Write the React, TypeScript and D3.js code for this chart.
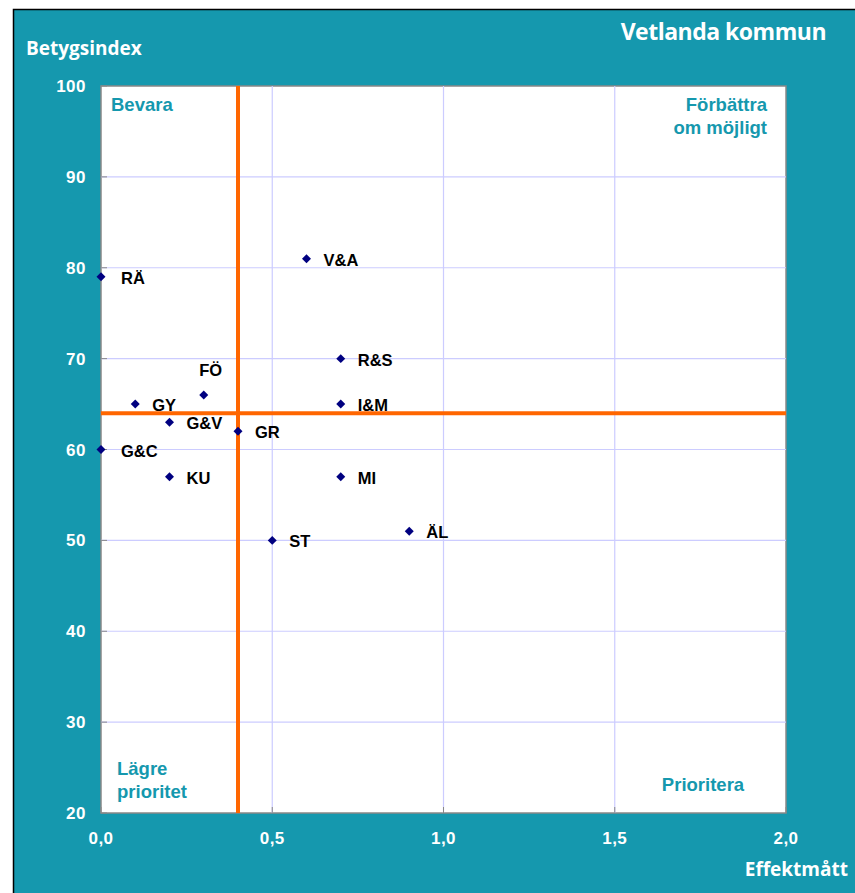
import * as d3 from "d3";
import React from "react";
import { useEffect, useRef } from "react";

const labels = ["RÄ", "V&A", "R&S", "I&M", "FÖ", "GY", "G&V", "GR", "G&C", "KU", "MI", "ST", "ÄL"];
const effekt = [0, 0.6, 0.7, 0.7, 0.3, 0.1, 0.2, 0.4, 0, 0.2, 0.7, 0.5, 0.9];
const betyg = [79, 81, 70, 65, 66, 65, 63, 62, 60, 57, 57, 50, 51];
const labelAbove = ["FÖ"];
const xTicks = [0, 0.5, 1.0, 1.5, 2.0];
const yTicks = [20, 30, 40, 50, 60, 70, 80, 90, 100];
const xCut = 0.4;
const yCut = 64;

const W = 855, H = 893;
const teal = "#1598ae";

const App = () => {
    const ref = useRef(null);

    useEffect(() => {
        document.body.style.margin = "0";
        const svg = d3.select(ref.current);
        svg.selectAll("*").remove();

        const x = d3.scaleLinear().domain([0, 2]).range([101, 786]);
        const y = d3.scaleLinear().domain([20, 100]).range([813, 86]);
        const tickFont = "'Liberation Sans', Arial, sans-serif";
        const titleFont = "'Open Sans', 'Noto Sans', sans-serif";

        // background frame
        svg.append("rect").attr("x", 13.5).attr("y", 9.5).attr("width", W).attr("height", H)
            .attr("fill", teal).attr("stroke", "#000").attr("stroke-width", 1.5);

        // plot area
        svg.append("rect").attr("x", x(0)).attr("y", y(100))
            .attr("width", x(2) - x(0)).attr("height", y(20) - y(100))
            .attr("fill", "#fff").attr("stroke", "#888").attr("stroke-width", 1.5);

        // grid
        const g = svg.append("g");
        g.selectAll("line.h").data(yTicks.slice(1, -1)).enter().append("line")
            .attr("x1", x(0)).attr("x2", x(2))
            .attr("y1", d => y(d)).attr("y2", d => y(d))
            .attr("stroke", "#ccccff").attr("stroke-width", 1.2);
        g.selectAll("line.v").data(xTicks.slice(1, -1)).enter().append("line")
            .attr("y1", y(20)).attr("y2", y(100))
            .attr("x1", d => x(d)).attr("x2", d => x(d))
            .attr("stroke", "#ccccff").attr("stroke-width", 1.2);

        // tick marks (inside)
        g.selectAll("line.yt").data(yTicks).enter().append("line")
            .attr("x1", x(0)).attr("x2", x(0) + 6)
            .attr("y1", d => y(d)).attr("y2", d => y(d))
            .attr("stroke", "#888").attr("stroke-width", 1);
        g.selectAll("line.xt").data(xTicks).enter().append("line")
            .attr("y1", y(20)).attr("y2", y(20) - 6)
            .attr("x1", d => x(d)).attr("x2", d => x(d))
            .attr("stroke", "#888").attr("stroke-width", 1);

        // tick labels
        svg.selectAll("text.yl").data(yTicks).enter().append("text")
            .attr("x", 86).attr("y", d => y(d) + 6)
            .attr("text-anchor", "end").attr("fill", "#fff")
            .attr("font-family", tickFont).attr("font-weight", "bold").attr("font-size", 17)
            .attr("letter-spacing", 0.5)
            .text(d => d);
        const fmt = (d: number) => d.toFixed(1).replace(".", ",");
        svg.selectAll("text.xl").data(xTicks).enter().append("text")
            .attr("x", d => x(d)).attr("y", 844)
            .attr("text-anchor", "middle").attr("fill", "#fff")
            .attr("font-family", tickFont).attr("font-weight", "bold").attr("font-size", 17)
            .attr("letter-spacing", 0.5)
            .text(d => fmt(d));

        // quadrant cut lines
        svg.append("line").attr("x1", x(xCut)).attr("x2", x(xCut)).attr("y1", y(100)).attr("y2", y(20))
            .attr("stroke", "#ff6600").attr("stroke-width", 4);
        svg.append("line").attr("x1", x(0)).attr("x2", x(2)).attr("y1", y(yCut)).attr("y2", y(yCut))
            .attr("stroke", "#ff6600").attr("stroke-width", 4);

        // titles
        svg.append("text").attr("x", 26).attr("y", 55)
            .attr("fill", "#fff").attr("font-family", titleFont).attr("font-weight", "bold").attr("font-size", 19)
            .text("Betygsindex");
        svg.append("text").attr("x", 826).attr("y", 40).attr("text-anchor", "end")
            .attr("fill", "#fff").attr("font-family", titleFont).attr("font-weight", "bold").attr("font-size", 23)
            .attr("letter-spacing", -0.5)
            .text("Vetlanda kommun");
        svg.append("text").attr("x", 848).attr("y", 876).attr("text-anchor", "end")
            .attr("fill", "#fff").attr("font-family", titleFont).attr("font-weight", "bold").attr("font-size", 19)
            .text("Effektmått");

        // quadrant names
        const quad = (tx: number, ty: number, lines: string[], anchor: string) => {
            const t = svg.append("text").attr("x", tx).attr("y", ty).attr("text-anchor", anchor)
                .attr("fill", teal).attr("font-family", tickFont).attr("font-weight", "bold").attr("font-size", 18.5);
            lines.forEach((l, i) => t.append("tspan").attr("x", tx).attr("dy", i === 0 ? 0 : 23).text(l));
        };
        quad(111, 111, ["Bevara"], "start");
        quad(767, 111, ["Förbättra", "om möjligt"], "end");
        quad(117, 775, ["Lägre", "prioritet"], "start");
        quad(703, 791, ["Prioritera"], "middle");

        // points (square turned 45 degrees = diamond)
        const sym = d3.symbol().type(d3.symbolSquare).size(40);
        svg.selectAll("path.pt").data(labels).enter().append("path")
            .attr("d", sym)
            .attr("transform", (d, i) => `translate(${x(effekt[i])},${y(betyg[i])}) rotate(45)`)
            .attr("fill", "#000080");

        svg.selectAll("text.pl").data(labels).enter().append("text")
            .attr("x", (d, i) => labelAbove.includes(d) ? x(effekt[i]) + 7 : x(effekt[i]) + (effekt[i] === 0 ? 20 : 17))
            .attr("y", (d, i) => labelAbove.includes(d) ? y(betyg[i]) - 19 : y(betyg[i]) + 7)
            .attr("text-anchor", (d) => labelAbove.includes(d) ? "middle" : "start")
            .attr("fill", "#000").attr("font-family", tickFont).attr("font-weight", "bold").attr("font-size", 16.5)
            .text(d => d);
    }, []);

    return <svg ref={ref} width={W} height={H} style={{ display: "block" }} />;
};

export default App;
